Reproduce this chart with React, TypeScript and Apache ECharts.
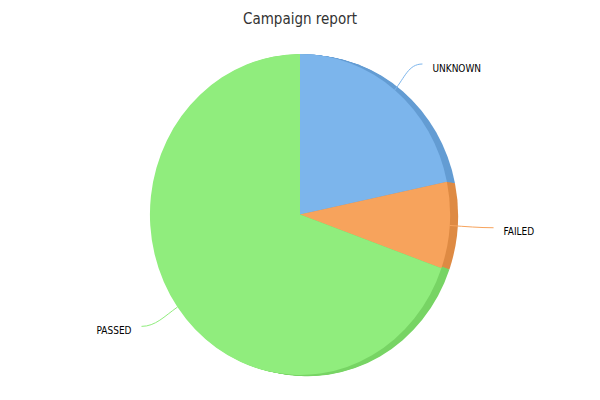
import React, { useEffect, useRef } from "react";
import * as echarts from "echarts";

const titleText = "Campaign report";
const names = ["UNKNOWN", "FAILED", "PASSED"];
const values = [5, 2, 16];
const colors = ["#7cb5ec", "#f7a35c", "#90ed7d"];
const sideColors = ["#639cd3", "#de8a43", "#77d464"];

const FONT = '"DejaVu Sans Condensed", "Liberation Sans Narrow", sans-serif';

export default function App() {
  const ref = useRef<HTMLDivElement>(null);

  useEffect(() => {
    if (!ref.current) return;
    const chart = echarts.init(ref.current, undefined, { renderer: "svg" });
    const total = values.reduce((a, b) => a + b, 0);
    const cum: number[] = [];
    let acc = 0;
    values.forEach((v) => {
      cum.push(acc);
      acc += v;
    });

    const ry = 160.5;
    const rx = 150;
    const sliceAngles = (i: number) => {
      const f0 = cum[i] / total;
      const f1 = (cum[i] + values[i]) / total;
      return {
        s: f0 * Math.PI * 2 - Math.PI / 2,
        e: f1 * Math.PI * 2 - Math.PI / 2,
      };
    };

    const data = values.map((v, i) => ({ name: names[i], value: v }));

    chart.setOption({
      animation: false,
      backgroundColor: "#ffffff",
      title: {
        text: titleText,
        left: "center",
        top: 6,
        textStyle: {
          fontFamily: FONT,
          fontSize: 15,
          fontWeight: "normal",
          color: "#333333",
        },
      },
      series: [
        {
          type: "custom",
          coordinateSystem: "none",
          silent: true,
          data,
          renderItem: (params: any, api: any) => {
            const i = params.dataIndex;
            const cx = api.getWidth() / 2;
            const cy = 214.5;
            const { s, e } = sliceAngles(i);
            const children: any[] = [];
            for (let k = 1; k <= 8; k++) {
              children.push({
                type: "sector",
                x: cx + k,
                y: cy + k * 0.15,
                scaleX: rx / ry,
                shape: { cx: 0, cy: 0, r: ry, startAngle: s, endAngle: e, clockwise: true },
                style: { fill: sideColors[i] },
              });
            }
            return { type: "group", children };
          },
        },
        {
          type: "custom",
          coordinateSystem: "none",
          silent: true,
          data,
          renderItem: (params: any, api: any) => {
            const i = params.dataIndex;
            const cx = api.getWidth() / 2;
            const cy = 214.5;
            const { s, e } = sliceAngles(i);
            const mid = (s + e) / 2;
            const cosm = Math.cos(mid);
            const sinm = Math.sin(mid);
            const sx = cx + rx * cosm;
            const sy = cy + ry * sinm;
            const R = 194;
            const ex = cx + R * cosm;
            const ey = cy + R * sinm;
            const dir = cosm >= 0 ? 1 : -1;
            return {
              type: "group",
              children: [
                {
                  type: "sector",
                  x: cx,
                  y: cy,
                  scaleX: rx / ry,
                  shape: { cx: 0, cy: 0, r: ry, startAngle: s, endAngle: e, clockwise: true },
                  style: { fill: colors[i] },
                },
                {
                  type: "bezierCurve",
                  shape: {
                    x1: sx,
                    y1: sy,
                    cpx1: sx + cosm * 16,
                    cpy1: sy + sinm * 16,
                    cpx2: ex - dir * 14,
                    cpy2: ey,
                    x2: ex,
                    y2: ey,
                  },
                  style: { stroke: colors[i], lineWidth: 1, fill: null },
                },
                {
                  type: "text",
                  x: ex + dir * 10,
                  y: ey + 4,
                  style: {
                    text: names[i],
                    fill: "#000000",
                    fontSize: 10,
                    fontFamily: FONT,
                    align: dir > 0 ? "left" : "right",
                    verticalAlign: "middle",
                  },
                },
              ],
            };
          },
        },
      ],
    });
    return () => chart.dispose();
  }, []);

  return (
    <div
      ref={ref}
      style={{ position: "fixed", left: 0, top: 0, width: 600, height: 400 }}
    />
  );
}
